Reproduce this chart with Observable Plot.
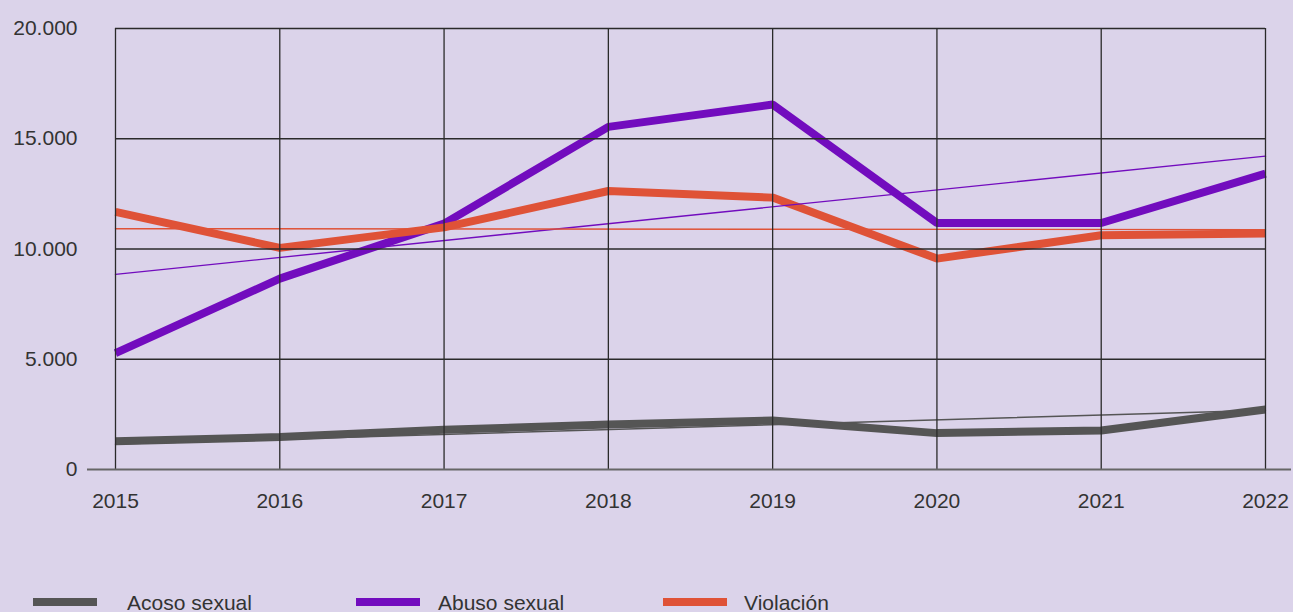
<!DOCTYPE html>
<html>
<head>
<meta charset="utf-8">
<script src="https://cdn.jsdelivr.net/npm/d3@7"></script>
<script src="https://cdn.jsdelivr.net/npm/@observablehq/plot@0.6"></script>
<style>
  html, body { margin: 0; padding: 0; background: #dbd3ea; overflow: hidden; }
  #chart { width: 1293px; }
  #legend { position: relative; width: 1293px; height: 52px; font-family: "Liberation Sans", Arial, sans-serif; font-size: 21px; color: #333; }
  .sw { position: absolute; height: 8px; width: 64px; top: 38px; }
  .lb { position: absolute; top: 32px; line-height: 21px; white-space: nowrap; }
</style>
</head>
<body>
<div id="chart"></div>
<div id="legend"></div>
<script>
const years = [2015, 2016, 2017, 2018, 2019, 2020, 2021, 2022];
const seriesNames = ["Acoso sexual", "Abuso sexual", "Violación"];
const acoso = [1285, 1470, 1800, 2040, 2220, 1650, 1770, 2720];
const abuso = [5280, 8655, 11150, 15540, 16550, 11180, 11180, 13420];
const violacion = [11680, 10050, 10980, 12630, 12330, 9565, 10620, 10700];
// trend line values at first and last year
const trendAcoso = [1150, 2690];
const trendAbuso = [8850, 14210];
const trendViolacion = [10920, 10880];
const yTicks = [0, 5000, 10000, 15000, 20000];
const colors = ["#555555", "#720cbe", "#df5237"];

const seriesValues = [acoso, abuso, violacion];
const trends = [trendAcoso, trendAbuso, trendViolacion];

const fmt = d => d3.format(",")(d).replace(/,/g, ".");

const marks = [];
// data lines: gray, purple, orange
seriesValues.forEach((vals, i) => {
  const rows = years.map((y, j) => ({year: y, value: vals[j]}));
  marks.push(Plot.line(rows, {x: "year", y: "value", stroke: colors[i], strokeWidth: 8,
    strokeLinejoin: "miter", strokeLinecap: "butt"}));
});
// trend lines
trends.forEach((t, i) => {
  const rows = [{year: years[0], value: t[0]}, {year: years[years.length - 1], value: t[1]}];
  marks.push(Plot.line(rows, {x: "year", y: "value", stroke: colors[i], strokeWidth: 1.4}));
});
// grid on top
marks.push(Plot.ruleX(years, {y1: 0, y2: 20000, stroke: "#2a2a2a", strokeWidth: 1.3}));
marks.push(Plot.ruleY(yTicks.filter(d => d > 0), {stroke: "#2a2a2a", strokeWidth: 1.3}));
marks.push(Plot.ruleY([0], {stroke: "#666", strokeWidth: 2, insetLeft: -28, insetRight: -26}));
// axes
marks.push(Plot.axisY(yTicks, {label: null, tickSize: 0, tickPadding: 38, tickFormat: fmt, fontSize: 21, fill: "#333"}));
marks.push(Plot.axisX(years, {label: null, tickSize: 0, tickPadding: 24, tickFormat: d => String(d), fontSize: 21, fill: "#333"}));

const plot = Plot.plot({
  width: 1293,
  height: 560,
  marginLeft: 115,
  marginRight: 28,
  marginTop: 28,
  marginBottom: 91,
  x: {domain: [2015, 2022], axis: null, label: null},
  y: {domain: [0, 20000], axis: null, label: null},
  style: {background: "#dbd3ea", fontFamily: "'Liberation Sans', Arial, sans-serif", fontSize: "21px", color: "#333", overflow: "visible"},
  marks
});
document.getElementById("chart").appendChild(plot);

// legend
const legend = document.getElementById("legend");
const swX = [33, 356, 663];
const lbX = [127, 438, 744];
seriesNames.forEach((name, i) => {
  const s = document.createElement("div");
  s.className = "sw"; s.style.left = swX[i] + "px"; s.style.background = colors[i];
  legend.appendChild(s);
  const l = document.createElement("div");
  l.className = "lb"; l.style.left = lbX[i] + "px"; l.textContent = name;
  legend.appendChild(l);
});
</script>
</body>
</html>
